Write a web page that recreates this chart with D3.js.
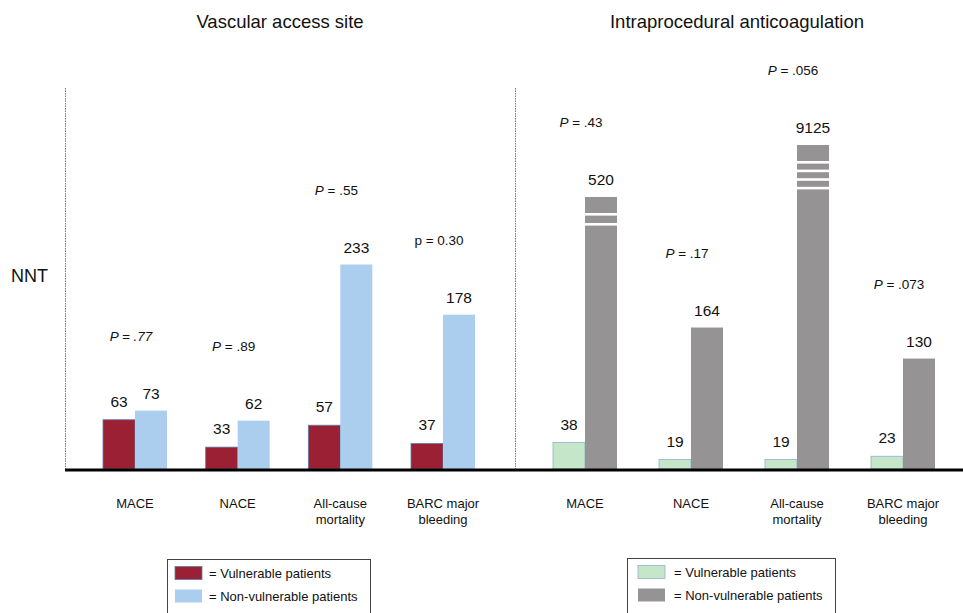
<!DOCTYPE html>
<html><head><meta charset="utf-8">
<script src="https://cdn.jsdelivr.net/npm/d3@7/dist/d3.min.js"></script>
<style>body{margin:0;background:#fff}svg{display:block;font-family:"Liberation Sans",Arial,sans-serif}</style>
</head><body><svg id="c" width="963" height="613"></svg>
<script>
const categories = ["MACE", "NACE", "All-cause mortality", "BARC major bleeding"];
const categoryLines = [["MACE"], ["NACE"], ["All-cause", "mortality"], ["BARC major", "bleeding"]];
const panelTitles = ["Vascular access site", "Intraprocedural anticoagulation"];
const vascVulnerable = [63, 33, 57, 37];
const vascNonVulnerable = [73, 62, 233, 178];
const anticoVulnerable = [38, 19, 19, 23];
const anticoNonVulnerable = [520, 164, 9125, 130];
const vascPValues = [["P", " = .77", true], ["P", " = .89", false], ["P", " = .55", false], ["p", " = 0.30", false]];
const anticoPValues = [["P", " = .43", false], ["P", " = .17", false], ["P", " = .056", false], ["P", " = .073", false]];
const legendLabels = ["= Vulnerable patients", "= Non-vulnerable patients"];

const svg = d3.select("#c");
const baseY = 469;
// non-linear, broken (piecewise) value scale as drawn in the original figure
const y = d3.scaleLinear().domain([0, 20, 250, 520, 9125]).range([baseY, 459, 249, 197, 145]);

const panels = [
  {title: panelTitles[0], cx: 280, range: [135, 443], vul: vascVulnerable, non: vascNonVulnerable,
   pv: vascPValues, cV: "#9b2034", sV: "#5a7fa6", cN: "#abcdee", sN: "none", leg: {x: 167.5, y: 559.5, w: 203, sx: 175, tx: 209}},
  {title: panelTitles[1], cx: 737, range: [585, 903], vul: anticoVulnerable, non: anticoNonVulnerable,
   pv: anticoPValues, cV: "#c6e6c9", sV: "#8fb2cf", cN: "#959393", sN: "none", leg: {x: 627.5, y: 558.5, w: 208, sx: 638, tx: 674}}
];
const bw = 32;

[65, 515].forEach(xv => svg.append("line").attr("x1", xv + 0.5).attr("x2", xv + 0.5).attr("y1", 88).attr("y2", baseY)
  .attr("stroke", "#777").attr("stroke-width", 1).attr("stroke-dasharray", "1.5,1"));

panels.forEach(p => {
  const x = d3.scalePoint().domain(categories).range(p.range);
  svg.append("text").attr("x", p.cx).attr("y", 28).attr("text-anchor", "middle")
    .attr("font-size", 18.5).attr("fill", "#111").text(p.title);

  categories.forEach((c, i) => {
    const cx = x(c);
    const vv = p.vul[i], nv = p.non[i];
    const yv = y(vv), yn = y(nv);
    svg.append("rect").attr("x", cx - bw).attr("y", yv).attr("width", bw).attr("height", baseY - yv)
      .attr("fill", p.cV).attr("stroke", p.sV).attr("stroke-width", 0.8);
    svg.append("rect").attr("x", cx).attr("y", yn).attr("width", bw).attr("height", baseY - yn)
      .attr("fill", p.cN);
    if (nv > 250) {
      const n = nv > 1000 ? 4 : 2;
      const gap = nv > 1000 ? 8.6 : 10;
      for (let k = 0; k < n; k++) {
        svg.append("rect").attr("x", cx - 1).attr("y", yn + 16 + k * gap).attr("width", bw + 2).attr("height", 2.6)
          .attr("fill", "#fff");
      }
    }
    svg.append("text").attr("x", cx - bw / 2).attr("y", yv - 13).attr("text-anchor", "middle")
      .attr("font-size", 15.5).attr("fill", "#111").text(vv);
    svg.append("text").attr("x", cx + bw / 2).attr("y", yn - 12).attr("text-anchor", "middle")
      .attr("font-size", 15.5).attr("fill", "#111").text(nv);
    const top = Math.min(yv, yn);
    const pt = svg.append("text").attr("x", cx - 4).attr("y", top - 70).attr("text-anchor", "middle")
      .attr("font-size", 13.5).attr("fill", "#111");
    const pvv = p.pv[i];
    pt.append("tspan").attr("font-style", pvv[0] === "P" ? "italic" : "normal").text(pvv[0]);
    pt.append("tspan").attr("font-style", pvv[2] ? "italic" : "normal").text(pvv[1]);
    categoryLines[i].forEach((ln, j) => svg.append("text").attr("x", cx).attr("y", 508 + j * 16).attr("text-anchor", "middle")
      .attr("font-size", 13).attr("fill", "#111").text(ln));
  });

  const L = p.leg;
  svg.append("rect").attr("x", L.x).attr("y", L.y).attr("width", L.w).attr("height", 70)
    .attr("fill", "none").attr("stroke", "#444").attr("stroke-width", 1);
  [[p.cV, p.sV], [p.cN, p.sN]].forEach((s, k) => {
    svg.append("rect").attr("x", L.sx).attr("y", L.y + 7 + k * 23).attr("width", 27).attr("height", 13)
      .attr("fill", s[0]).attr("stroke", s[1]).attr("stroke-width", 0.8);
    svg.append("text").attr("x", L.tx).attr("y", L.y + 18 + k * 23).attr("font-size", 13)
      .attr("fill", "#111").text(legendLabels[k]);
  });
});

svg.append("text").attr("x", 11).attr("y", 282).attr("font-size", 18).attr("fill", "#111").text("NNT");
svg.append("line").attr("x1", 65).attr("x2", 963).attr("y1", baseY + 1).attr("y2", baseY + 1)
  .attr("stroke", "#000").attr("stroke-width", 3);
</script></body></html>
